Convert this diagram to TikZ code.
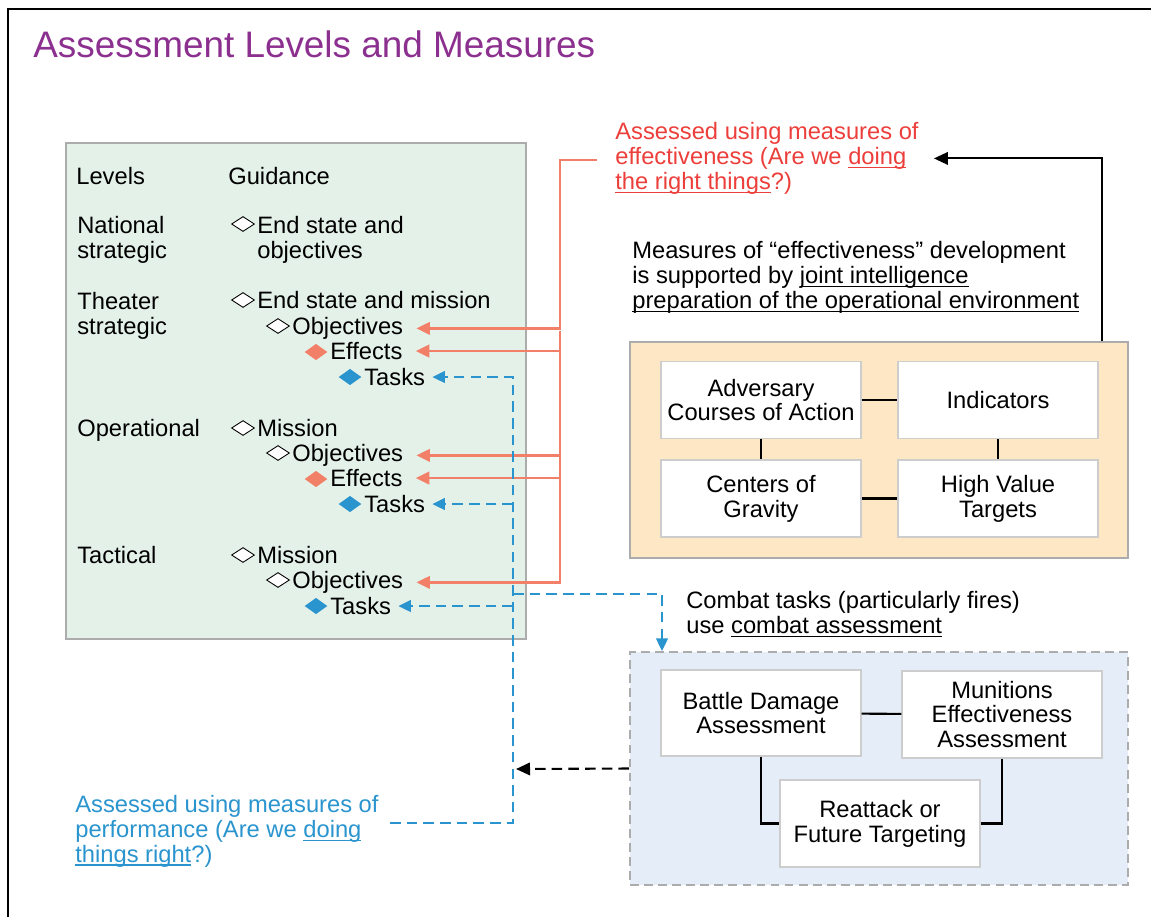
\documentclass[tikz,border=0pt]{standalone}
\usepackage{fontspec}
\setmainfont{Liberation Sans}
\usetikzlibrary{arrows.meta,positioning,shapes.geometric}
\definecolor{titlepurple}{RGB}{140,48,144}
\definecolor{moered}{RGB}{236,62,58}
\definecolor{moesalmon}{RGB}{242,128,104}
\definecolor{mopblue}{RGB}{42,148,206}
\definecolor{levelgreen}{RGB}{228,241,233}
\definecolor{jipfill}{RGB}{254,231,196}
\definecolor{cafill}{RGB}{228,237,248}
\definecolor{panelgray}{RGB}{172,172,172}
\definecolor{cardgray}{RGB}{205,205,205}
\newcommand{\bodyfont}{\fontsize{13.5}{14.2}\selectfont}
\newsavebox{\ulbox}
\newcommand{\ul}[1]{\sbox{\ulbox}{#1}\rlap{\rule[-2pt]{\wd\ulbox}{0.6pt}}\usebox{\ulbox}}

\begin{document}
\begin{tikzpicture}[
  x=0.02cm, y=-0.02cm,
  txt/.style={anchor=base west, align=left, inner sep=0pt, font=\bodyfont},
  panel/.style={draw=panelgray, line width=1pt, minimum width=9.96cm},
  card/.style={draw=cardgray, fill=white, line width=0.8pt, align=center, font=\bodyfont, minimum width=4cm, minimum height=1.54cm},
  odia/.style={diamond, draw=black, fill=white, line width=0.5pt, inner sep=0pt, minimum width=0.46cm, minimum height=0.3cm},
  rdia/.style={odia, draw=none, fill=moesalmon, minimum height=0.33cm},
  bdia/.style={odia, draw=none, fill=mopblue, minimum height=0.33cm},
  moe/.style={draw=moesalmon, line width=1.3pt, -{Triangle[length=0.27cm,width=0.25cm]}, shorten >=0.26cm},
  mop/.style={draw=mopblue, line width=1.4pt, dash pattern=on 6pt off 3.5pt, -{Triangle[length=0.25cm,width=0.23cm]}, shorten >=0.14cm},
  link/.style={line width=1.2pt},
  arrow/.style={-{Triangle[length=0.28cm,width=0.25cm]}, line width=1.2pt}
]
\useasboundingbox (0,0) rectangle (1151,917);
\draw[line width=1.6pt] (8,917) -- (8,9) -- (1151,9);

\node[anchor=base west, inner sep=0pt, font=\fontsize{21}{24}\selectfont, text=titlepurple] (title) at (33,57) {Assessment Levels and Measures};

% levels panel (multi-line texts sit on their last line)
\node[draw=panelgray, fill=levelgreen, line width=0.8pt, minimum width=9.2cm, minimum height=9.92cm] (lvbox) at (296,391) {};
\node[txt] (lvl) at (76,184.5) {Levels};
\node[txt] (gdn) at (228,184.5) {Guidance};
\node[txt] (nat) at (77,258.5) {National\\strategic};
\node[txt] (thr) at (77,334.5) {Theater\\strategic};
\node[txt] (opr) at (77,436.5) {Operational};
\node[txt] (tac) at (77,563.5) {Tactical};

\node[odia] (dn) at (243,224) {};
\node[txt] (ns) at (257,258.5) {End state and\\objectives};
\node[odia] (dt) at (243,300) {};
\node[txt] (ts) at (257,308.5) {End state and mission};
\node[odia] (do1) at (278,326) {};
\node[txt] (o1) at (292,334.5) {Objectives};
\node[rdia] (de1) at (316,352) {};
\node[txt] (e1) at (330,359.5) {Effects};
\node[bdia] (dt1) at (350,377) {};
\node[txt] (t1) at (364,385.5) {Tasks};

\node[odia] (dm2) at (243,428) {};
\node[txt] (m2) at (257,436.5) {Mission};
\node[odia] (do2) at (278,453) {};
\node[txt] (o2) at (292,461.5) {Objectives};
\node[rdia] (de2) at (316,479) {};
\node[txt] (e2) at (330,486.5) {Effects};
\node[bdia] (dt2) at (350,504) {};
\node[txt] (t2) at (364,512.5) {Tasks};

\node[odia] (dm3) at (243,555) {};
\node[txt] (m3) at (257,563.5) {Mission};
\node[odia] (do3) at (278,580) {};
\node[txt] (o3) at (292,588.5) {Objectives};
\node[bdia] (dt3) at (316,606) {};
\node[txt] (t3) at (330,614.5) {Tasks};

% notes
\node[txt, text=moered] (moetxt) at (615,189.5) {Assessed using measures of\\effectiveness (Are we \ul{doing}\\\ul{the right things}?)};
\node[txt] (jiptxt) at (632,308.5) {Measures of “effectiveness” development\\is supported by \ul{joint intelligence}\\\ul{preparation of the operational environment}};
\node[txt] (cattxt) at (686,633.5) {Combat tasks (particularly fires)\\use \ul{combat assessment}};
\node[txt, text=mopblue] (moptxt) at (75,862) {Assessed using measures of\\performance (Are we \ul{doing}\\\ul{things right}?)};

% intelligence panel
\node[panel, fill=jipfill, minimum height=4.32cm] (jbox) at (879,450) {};
\node[card] (acoa) at (761,400) {Adversary\\Courses of Action};
\node[card] (ind) at (998,400) {Indicators};
\node[card] (cog) at (761,498.5) {Centers of\\Gravity};
\node[card] (hvt) at (998,498.5) {High Value\\Targets};
\draw[link] (acoa) -- (ind);
\draw[link] (acoa) -- (cog);
\draw[link] (ind) -- (hvt);
\draw[link] (cog) -- (hvt);

% combat assessment panel
\node[panel, draw=panelgray, line width=1.2pt, dash pattern=on 5pt off 3pt, fill=cafill, minimum height=4.66cm] (cabox) at (879,768.5) {};
\node[card, minimum height=1.72cm] (bda) at (761,713) {Battle Damage\\Assessment};
\node[card, minimum height=1.74cm] (mea) at (1002,714.5) {Munitions\\Effectiveness\\Assessment};
\node[card, minimum height=1.74cm] (rft) at (880,823.5) {Reattack or\\Future Targeting};
\draw[link] (bda) -- (mea);
\draw[link] (bda.south) |- (rft.west);
\draw[link] (mea.south) |- (rft.east);

% measures of effectiveness
\coordinate (moeA) at (597,160);
\coordinate (moeX) at (560,160);
\coordinate (moeB) at (560,331);
\draw[moe] (moeA) -- (moeX) |- (o1.east);
\draw[moe] (moeB) |- (o3.east);
\draw[moe] (e1.east -| moeB) -- (e1.east);
\draw[moe] (o2.east -| moeB) -- (o2.east);
\draw[moe] (e2.east -| moeB) -- (e2.east);

% measures of performance
\coordinate (mopA) at (390,823);
\coordinate (mopB) at (513,823);
\coordinate (mopC) at (513,594);
\draw[mop] (mopA) -- (mopB) |- (t1.east);
\draw[mop] (t2.east -| mopB) -- (t2.east);
\draw[mop] (t3.east -| mopB) -- (t3.east);
\draw[mop, shorten >=0pt] (mopC) -| ([xshift=0.66cm]cabox.north west);

% feedback
\coordinate (fbEnd) at (516,769);
\draw[arrow, dash pattern=on 6pt off 3.5pt] (cabox.west) -- (fbEnd);
\draw[arrow, shorten >=0.3cm] ([xshift=-0.54cm]jbox.north east) |- (moetxt.east);
\end{tikzpicture}
\end{document}
